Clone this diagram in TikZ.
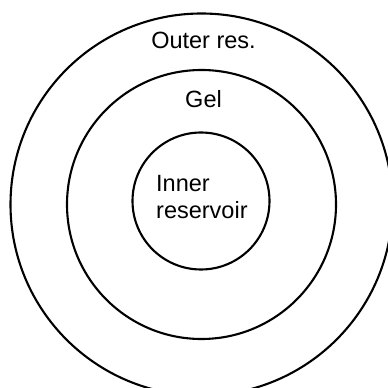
\documentclass[tikz,border=0pt]{standalone}
\usepackage{fontspec}
\setmainfont{Liberation Sans}
\begin{document}
\begin{tikzpicture}[x=1pt,y=1pt,
  ring/.style={circle, draw=black, line width=2.1pt, inner sep=0pt, outer sep=0pt},
  lbl/.style={inner sep=0pt, font=\fontsize{23.5}{28}\selectfont}]
\useasboundingbox (0,0) rectangle (388,388);
\clip (0,0) rectangle (388,388);
\fill[white] (0,0) rectangle (388,388);
\coordinate (c) at (201.5,183.5);
\node[ring, minimum size=382pt] (outer) at (c) {};
\node[ring, minimum size=269pt] (gel) at (c) {};
\node[ring, minimum size=137pt] (inner) at (201,187) {};
\node[lbl, anchor=base] (outerlbl) at (203.5,339) {Outer res.};
\node[lbl, anchor=base] (gellbl) at (203.5,280) {Gel};
\node[lbl, anchor=base west] (innerlbl1) at (156,196) {Inner};
\node[lbl, anchor=base west] (innerlbl2) at (156,169) {reservoir};
\end{tikzpicture}
\end{document}
